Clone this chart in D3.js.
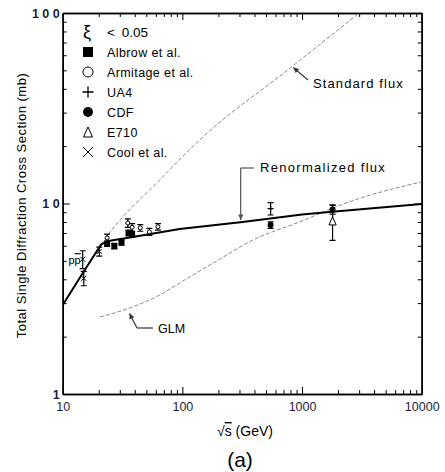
<!DOCTYPE html>
<html>
<head>
<meta charset="utf-8">
<script src="https://cdn.jsdelivr.net/npm/d3@7"></script>
<style>
  body { margin: 0; background: #fff; }
  text { font-family: "Liberation Sans", Arial, sans-serif; }
</style>
</head>
<body>
<script>
let width = 445, height = 472

// curves (sqrt(s) in GeV, cross section in mb)
const stdFluxE = [10, 15, 22.5, 64.7, 139, 846, 3000]
const stdFluxSigma = [2.93, 4.4, 6.5, 13.3, 21.5, 53, 100]
const renormE = [10, 15, 21, 24, 38.5, 95, 318, 1000, 1690, 10000]
const renormSigma = [2.93, 4.4, 6.1, 6.35, 6.67, 7.35, 8.0, 8.75, 9.02, 9.94]
const glmE = [20.5, 36.4, 64.7, 95, 139, 205, 364, 1000, 2477, 10000]
const glmSigma = [2.54, 2.83, 3.31, 3.83, 4.42, 5.1, 6.3, 8.1, 10.2, 13.0]

// data points
const albrowE = [23.5, 27, 31, 35.5, 38]
const albrowSigma = [6.15, 5.98, 6.25, 7.0, 6.9]
const albrowErr = [0.2, 0.2, 0.2, 0.25, 0.25]
const armitageE = [23.5, 35, 38, 44.5, 53, 62.5]
const armitageSigma = [6.6, 7.9, 7.5, 7.45, 7.1, 7.55]
const armitageErr = [0.3, 0.4, 0.35, 0.3, 0.3, 0.3]
const ua4E = [546]
const ua4Sigma = [9.4]
const ua4Err = [0.7]
const cdfE = [546, 1800]
const cdfSigma = [7.7, 9.3]
const cdfErr = [0.3, 0.5]
const e710E = [1800]
const e710Sigma = [8.1]
const e710Err = [1.7]
const coolE = [14.7, 15, 20.2]
const coolSigma = [5.1, 4.05, 5.6]
const coolErr = [0.55, 0.35, 0.3]

const xTicks = [10, 100, 1000, 10000]
const xTickLabels = ['10', '100', '1000', '10000']
const yTicks = [1, 10, 100]
const yTickLabels = ['1', '1 0', '1 0 0']
const legendNames = ['Albrow  et  al.', 'Armitage  et  al.', 'UA4', 'CDF', 'E710', 'Cool  et  al.']

let svg = d3.select('body').append('svg')
  .attr('width', width)
  .attr('height', height)

const plotLeft = 62.7, plotRight = 421.7, plotTop = 13, plotBottom = 394
let x = d3.scaleLog().domain([10, 10000]).range([plotLeft, plotRight])
let y = d3.scaleLog().domain([1, 100]).range([plotBottom, plotTop])

let minorX = [], minorY = []
for (let d = 10; d < 10000; d *= 10) for (let k = 2; k <= 9; k++) minorX.push(d * k)
for (let d = 1; d < 100; d *= 10) for (let k = 2; k <= 9; k++) minorY.push(d * k)

// axes, ticks pointing inward
function styleAxis(g) {
  g.select('.domain').attr('stroke', '#000').attr('stroke-width', 1.5)
  g.selectAll('.tick line').attr('stroke', '#000').attr('stroke-width', 1)
}
let fmtX = d => xTickLabels[xTicks.indexOf(d)]
let fmtY = d => yTickLabels[yTicks.indexOf(d)]

svg.append('g').attr('transform', `translate(0,${plotBottom})`)
  .call(d3.axisBottom(x).tickValues(minorX).tickSize(-4).tickSizeOuter(0).tickFormat(''))
  .call(styleAxis)
svg.append('g').attr('transform', `translate(0,${plotBottom})`)
  .call(d3.axisBottom(x).tickValues(xTicks).tickSize(-7).tickSizeOuter(0).tickPadding(8).tickFormat(fmtX))
  .call(styleAxis)
  .call(g => g.selectAll('text').attr('font-size', 12.5).attr('fill', '#1c1c3c')
    .attr('font-family', '"Liberation Sans", Arial, sans-serif'))
svg.append('g').attr('transform', `translate(0,${plotTop})`)
  .call(d3.axisTop(x).tickValues(minorX).tickSize(-4).tickSizeOuter(0).tickFormat(''))
  .call(styleAxis)
svg.append('g').attr('transform', `translate(0,${plotTop})`)
  .call(d3.axisTop(x).tickValues(xTicks).tickSize(-7).tickSizeOuter(0).tickFormat(''))
  .call(styleAxis)
svg.append('g').attr('transform', `translate(${plotLeft},0)`)
  .call(d3.axisLeft(y).tickValues(minorY).tickSize(-4).tickSizeOuter(0).tickFormat(''))
  .call(styleAxis)
svg.append('g').attr('transform', `translate(${plotLeft},0)`)
  .call(d3.axisLeft(y).tickValues(yTicks).tickSize(-7).tickSizeOuter(0).tickPadding(3).tickFormat(fmtY))
  .call(styleAxis)
  .call(g => g.selectAll('text').attr('font-size', 12.5).attr('font-weight', 'bold').attr('fill', '#1c1c3c')
    .attr('font-family', '"Liberation Sans", Arial, sans-serif'))
svg.append('g').attr('transform', `translate(${plotRight},0)`)
  .call(d3.axisRight(y).tickValues(minorY).tickSize(-4).tickSizeOuter(0).tickFormat(''))
  .call(styleAxis)
svg.append('g').attr('transform', `translate(${plotRight},0)`)
  .call(d3.axisRight(y).tickValues(yTicks).tickSize(-7).tickSizeOuter(0).tickFormat(''))
  .call(styleAxis)

// axis titles
svg.append('text')
  .attr('transform', `translate(26,${(plotTop + plotBottom) / 2 + 2})rotate(-90)`)
  .attr('text-anchor', 'middle')
  .attr('font-size', 13).attr('letter-spacing', 0.5)
  .text('Total Single Diffraction Cross Section (mb)')
let xt = svg.append('text').attr('x', 245).attr('y', 436)
  .attr('text-anchor', 'middle').attr('font-size', 14)
xt.append('tspan').text('√')
xt.append('tspan').attr('text-decoration', 'overline').text('s')
xt.append('tspan').text('  (GeV)')
svg.append('text').attr('x', 240).attr('y', 467).attr('text-anchor', 'middle')
  .attr('font-size', 21).attr('font-family', '"Liberation Serif", "Times New Roman", serif')
  .text('(a)')

// curves
svg.append('clipPath').attr('id', 'clip').append('rect')
  .attr('x', plotLeft).attr('y', plotTop).attr('width', plotRight - plotLeft).attr('height', plotBottom - plotTop)
let plot = svg.append('g').attr('clip-path', 'url(#clip)')
let line = d3.line().x(d => x(d[0])).y(d => y(d[1])).curve(d3.curveMonotoneX)
let lineStraight = d3.line().x(d => x(d[0])).y(d => y(d[1]))

plot.append('path').datum(d3.zip(stdFluxE, stdFluxSigma))
  .attr('d', line).attr('fill', 'none').attr('stroke', '#8a8a8a')
  .attr('stroke-width', 1).attr('stroke-dasharray', '4,2')
plot.append('path').datum(d3.zip(glmE, glmSigma))
  .attr('d', line).attr('fill', 'none').attr('stroke', '#8a8a8a')
  .attr('stroke-width', 1).attr('stroke-dasharray', '4,2')
plot.append('path').datum(d3.zip(renormE, renormSigma))
  .attr('d', lineStraight).attr('fill', 'none').attr('stroke', '#000')
  .attr('stroke-width', 2).attr('stroke-linejoin', 'round')

// markers
function marker(g, type, size) {
  let h = size / 2
  if (type === 'square') g.append('rect').attr('x', -h).attr('y', -h).attr('width', size).attr('height', size).attr('fill', '#000')
  if (type === 'circle') g.append('circle').attr('r', h).attr('fill', '#fff').attr('stroke', '#000').attr('stroke-width', 1)
  if (type === 'dot') g.append('circle').attr('r', h).attr('fill', '#000')
  if (type === 'plus') g.append('path').attr('d', `M${-h},0H${h}M0,${-h}V${h}`).attr('stroke', '#000').attr('stroke-width', 1.3)
  if (type === 'cross') g.append('path').attr('d', `M${-h},${-h}L${h},${h}M${-h},${h}L${h},${-h}`).attr('stroke', '#000').attr('stroke-width', 1)
  if (type === 'triangle') g.append('path').attr('d', `M0,${-h}L${h * 0.9},${h}L${-h * 0.9},${h}Z`).attr('fill', '#fff').attr('stroke', '#000').attr('stroke-width', 1)
}

function series(E, S, err, type, size) {
  let g = plot.append('g')
  E.forEach((e, i) => {
    let cx = x(e)
    let y0 = y(S[i] - err[i]), y1 = y(S[i] + err[i])
    g.append('path')
      .attr('d', `M${cx},${y0}V${y1}M${cx - 3},${y0}H${cx + 3}M${cx - 3},${y1}H${cx + 3}`)
      .attr('stroke', '#000').attr('stroke-width', 1.2)
    let m = g.append('g').attr('transform', `translate(${cx},${y(S[i])})`)
    marker(m, type, size)
  })
}
series(e710E, e710Sigma, e710Err, 'triangle', 8)
series(coolE, coolSigma, coolErr, 'cross', 5)
series(armitageE, armitageSigma, armitageErr, 'circle', 4)
series(albrowE, albrowSigma, albrowErr, 'square', 6)
series(ua4E, ua4Sigma, ua4Err, 'plus', 6)
series(cdfE, cdfSigma, cdfErr, 'dot', 6)

// p pbar label
let pp = svg.append('text').attr('x', x(coolE[0]) - 2).attr('y', y(coolSigma[0]) + 5)
  .attr('text-anchor', 'end').attr('font-size', 11)
pp.append('tspan').text('p')
pp.append('tspan').attr('text-decoration', 'overline').text('p')

// legend
let legend = svg.append('g').attr('transform', 'translate(88,0)')
legend.append('text').attr('x', -5).attr('y', 38).attr('font-size', 18)
  .attr('font-family', '"DejaVu Serif", serif').text('ξ')
legend.append('text').attr('x', 19).attr('y', 37).attr('font-size', 13.5).attr('word-spacing', 3).text('<  0.05')
const legendTypes = ['square', 'circle', 'plus', 'dot', 'triangle', 'cross']
const legendSizes = [10, 10, 11, 10, 10, 10]
legendNames.forEach((name, i) => {
  let yy = 52 + i * 20
  let m = legend.append('g').attr('transform', `translate(0,${yy})`)
  marker(m, legendTypes[i], legendSizes[i])
  legend.append('text').attr('x', 19).attr('y', yy + 4.5).attr('font-size', 12.5)
    .attr('letter-spacing', 0.4).text(name)
})

// annotations
function arrow(x1, y1, x2, y2, color) {
  svg.append('line').attr('x1', x1).attr('y1', y1).attr('x2', x2).attr('y2', y2)
    .attr('stroke', color).attr('stroke-width', 1.2)
  let a = Math.atan2(y2 - y1, x2 - x1), L = 6, w = 0.45
  svg.append('path')
    .attr('d', `M${x2},${y2}L${x2 - L * Math.cos(a - w)},${y2 - L * Math.sin(a - w)}L${x2 - L * Math.cos(a + w)},${y2 - L * Math.sin(a + w)}Z`)
    .attr('fill', color)
}
svg.append('text').attr('x', 313).attr('y', 88).attr('font-size', 13)
  .attr('letter-spacing', 1.1).text('Standard flux')
arrow(308, 80, x(846), y(53) + 2, '#333')

svg.append('text').attr('x', 260).attr('y', 172).attr('font-size', 13)
  .attr('letter-spacing', 1.3).text('Renormalized flux')
svg.append('line').attr('x1', 240.7).attr('y1', 168).attr('x2', 254).attr('y2', 168)
  .attr('stroke', '#555').attr('stroke-width', 1.2)
arrow(240.7, 168, 240.7, 220, '#555')

svg.append('text').attr('x', 158).attr('y', 333).attr('font-size', 12.5).text('GLM')
svg.append('line').attr('x1', 137).attr('y1', 328).attr('x2', 153).attr('y2', 328)
  .attr('stroke', '#333').attr('stroke-width', 1.2)
arrow(137, 328, 129.5, 313.5, '#333')
</script>
</body>
</html>
